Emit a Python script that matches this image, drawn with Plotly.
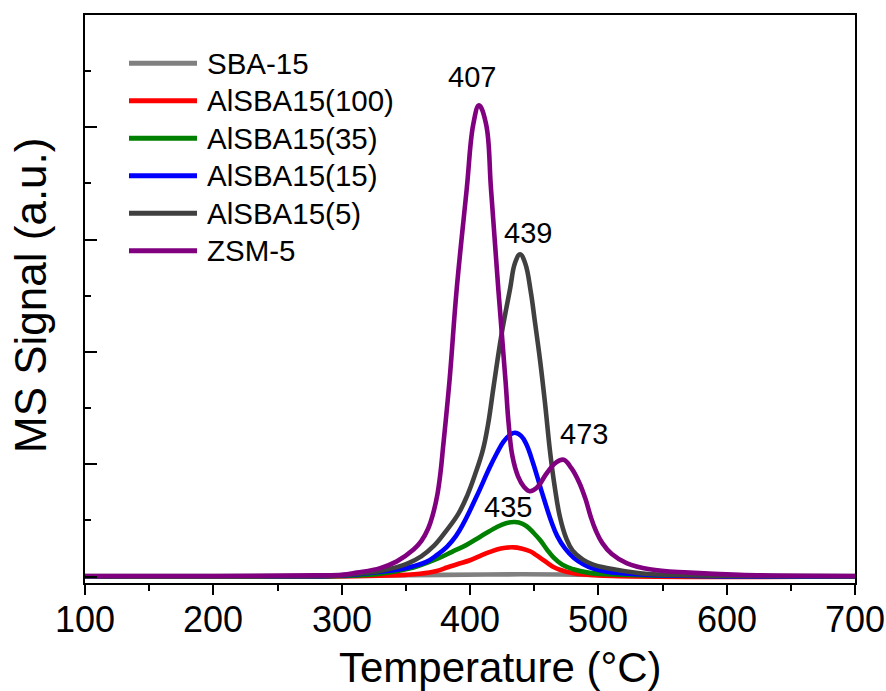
import plotly.graph_objects as go

# ---- data: NH3-TPD style MS signal (a.u.) vs temperature (°C) ----
t_sba = [100, 300, 380, 440, 500, 560, 700]
y_sba = [0.01, 0.01, 0.03, 0.04, 0.03, 0.015, 0.01]

t_al100 = [100, 250, 320, 350, 361, 374, 382, 390, 400, 408, 415.6, 424, 434, 440,
           446.8, 451, 455.5, 461, 465, 470, 480.5, 500, 700]
y_al100 = [0.0, 0.0, 0.01, 0.03, 0.05, 0.1, 0.16, 0.22, 0.29, 0.37, 0.44, 0.5, 0.52, 0.5,
           0.45, 0.39, 0.32, 0.23, 0.17, 0.12, 0.06, 0.02, 0.0]

t_al35 = [100, 250, 300, 330, 356, 366, 376, 386, 397, 408, 420, 428, 435, 441, 444.5,
          449, 454.6, 460, 465, 472, 480.5, 492, 506.5, 540, 700]
y_al35 = [0.0, 0.0, 0.01, 0.05, 0.16, 0.24, 0.33, 0.44, 0.56, 0.71, 0.87, 0.95, 0.97, 0.94, 0.89,
          0.79, 0.65, 0.48, 0.34, 0.21, 0.13, 0.07, 0.04, 0.02, 0.0]

t_al15 = [100, 250, 300, 320, 343, 355, 366, 374, 382, 389, 395, 405, 415.5, 421, 426,
          431, 435, 440, 444, 449.3, 455.5, 463.5, 468, 474, 481, 488.3, 496, 506.5, 540, 700]
y_al15 = [0.0, 0.0, 0.02, 0.06, 0.12, 0.18, 0.26, 0.38, 0.53, 0.72, 0.95, 1.42, 1.95, 2.2, 2.4,
          2.52, 2.56, 2.5, 2.35, 2.01, 1.54, 0.97, 0.72, 0.5, 0.33, 0.22, 0.14, 0.085, 0.03, 0.0]

t_al5 = [100, 250, 300, 317, 330, 340, 352, 362, 372, 381, 391, 398, 404, 410, 414, 418.5,
         424.7, 431.2, 435, 439, 443, 447.3, 450.5, 454.6, 458.4, 462.5, 466, 470, 475, 480,
         488, 495, 506.5, 532.5, 560, 700]
y_al5 = [0.0, 0.0, 0.02, 0.06, 0.1, 0.15, 0.24, 0.36, 0.55, 0.8, 1.12, 1.45, 1.82, 2.25, 2.7, 3.4,
         4.33, 5.12, 5.58, 5.74, 5.58, 5.08, 4.55, 3.85, 3.1, 2.2, 1.6, 1.07, 0.68, 0.46,
         0.3, 0.22, 0.15, 0.06, 0.03, 0.0]

t_zsm = [100, 200, 280, 300, 312, 330, 343, 356, 362, 367.5, 371, 374.5, 377, 379, 384, 389.6,
         397.4, 402.6, 407, 412.5, 416.4, 422.1, 427.8, 430, 433, 437.5, 442, 446.5, 452, 459.8,
         467, 473, 479, 485, 490, 494, 498, 503, 510.5, 522, 540, 571, 610, 700]
y_zsm = [0.01, 0.01, 0.02, 0.03, 0.07, 0.15, 0.27, 0.48, 0.63, 0.86, 1.1, 1.45, 1.85, 2.3, 3.48,
         5.11, 6.89, 8.06, 8.39, 8.06, 6.89, 5.11, 3.45, 2.75, 2.15, 1.78, 1.6, 1.52, 1.58, 1.84,
         2.03, 2.08, 1.93, 1.68, 1.38, 1.07, 0.82, 0.6, 0.4, 0.24, 0.13, 0.07, 0.03, 0.01]

names = ["SBA-15", "AlSBA15(100)", "AlSBA15(35)", "AlSBA15(15)", "AlSBA15(5)", "ZSM-5"]
colors = ["#808080", "#FF0000", "#008000", "#0000FF", "#404040", "#800080"]
xs = [t_sba, t_al100, t_al35, t_al15, t_al5, t_zsm]
ys = [y_sba, y_al100, y_al35, y_al15, y_al5, y_zsm]

# temperature axis tick values
x_ticks = [100, 200, 300, 400, 500, 600, 700]

# peak maxima (°C) written above the curves
peak_labels = [407, 439, 473, 435]
peak_label_y = [8.90, 6.11, 2.54, 1.23]
peak_label_dx = [-7, 7.5, 20, -7]

FONT = "Arial, Liberation Sans, Helvetica, sans-serif"

fig = go.Figure()
for x, y, n, c in zip(xs, ys, names, colors):
    fig.add_trace(go.Scatter(
        x=x, y=y, name=n, mode="lines",
        line=dict(color=c, width=4.6, shape="spline", smoothing=1.15),
        showlegend=False, hoverinfo="skip",
    ))

# plot-area geometry in pixels (used for the hand-built legend and labels)
W, H = 886, 691
ML, MR, MT, MB = 85, 31, 15, 108
PW, PH = W - ML - MR, H - MT - MB


def px_x(p):
    return (p - ML) / PW


def px_y(p):
    return (H - MB - p) / PH


shapes = []
annotations = []
row0, row_step = 63.3, 37.5
for i, (n, c) in enumerate(zip(names, colors)):
    yy = px_y(row0 + i * row_step)
    shapes.append(dict(type="line", xref="paper", yref="paper",
                       x0=px_x(129), x1=px_x(197), y0=yy, y1=yy,
                       line=dict(color=c, width=5)))
    annotations.append(dict(xref="paper", yref="paper", x=px_x(205), y=yy,
                            text=n, showarrow=False, xanchor="left", yanchor="middle",
                            font=dict(family=FONT, size=29.5, color="black")))

for lab, ly, dx in zip(peak_labels, peak_label_y, peak_label_dx):
    annotations.append(dict(x=lab, y=ly, xref="x", yref="y", text=str(lab),
                            showarrow=False, xshift=dx, xanchor="center", yanchor="middle",
                            font=dict(family=FONT, size=29, color="black")))

# x tick labels, set a little closer to the axis than the default placement
for t in x_ticks:
    annotations.append(dict(x=t, y=px_y(619), xref="x", yref="paper", text=str(t),
                            showarrow=False, xanchor="center", yanchor="middle",
                            font=dict(family=FONT, size=36, color="black")))

# axis titles
annotations.append(dict(xref="paper", yref="paper", x=px_x(500), y=px_y(667),
                        text="Temperature (°C)", showarrow=False,
                        xanchor="center", yanchor="middle",
                        font=dict(family=FONT, size=42, color="black")))
annotations.append(dict(xref="paper", yref="paper", x=px_x(30), y=px_y(296),
                        text="MS Signal (a.u.)", showarrow=False, textangle=-90,
                        xanchor="center", yanchor="middle",
                        font=dict(family=FONT, size=44, color="black")))

fig.update_layout(
    width=W, height=H,
    margin=dict(l=ML, r=MR, t=MT, b=MB, autoexpand=False),
    paper_bgcolor="white", plot_bgcolor="white",
    font=dict(family=FONT, color="black"),
    shapes=shapes, annotations=annotations,
    showlegend=False,
)
fig.update_xaxes(
    range=[100, 700], tickvals=x_ticks, automargin=False,
    ticks="outside", ticklen=10, tickwidth=2, tickcolor="black",
    showticklabels=False,
    minor=dict(dtick=50, ticks="outside", ticklen=6, tickwidth=2, tickcolor="black"),
    showline=True, linewidth=2, linecolor="black", mirror=True,
    showgrid=False, zeroline=False,
)
fig.update_yaxes(
    range=[-0.115, 10], tick0=0, dtick=2, automargin=False,
    ticks="inside", ticklen=12, tickwidth=2, tickcolor="black",
    minor=dict(dtick=1, ticks="inside", ticklen=6, tickwidth=2, tickcolor="black"),
    showticklabels=False,
    showline=True, linewidth=2, linecolor="black", mirror=True,
    showgrid=False, zeroline=False,
)

fig.write_html("out.html", config={"displayModeBar": False})
